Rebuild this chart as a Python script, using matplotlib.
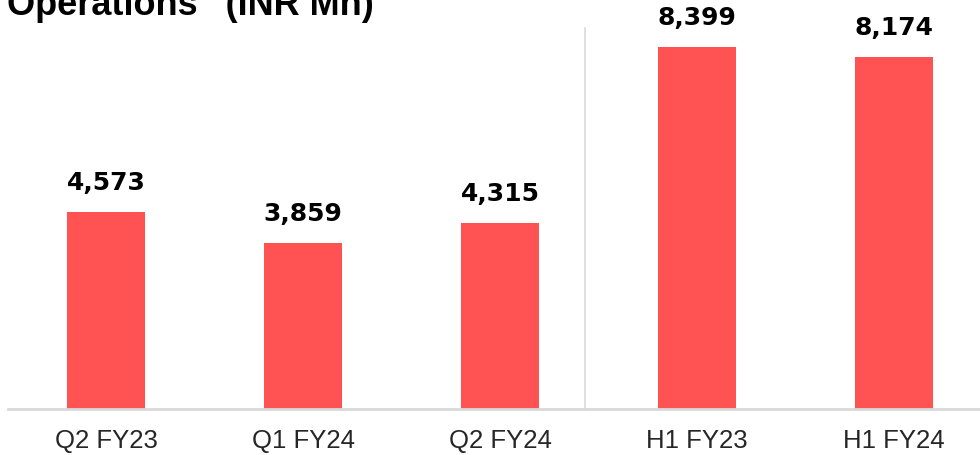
import matplotlib

matplotlib.use("Agg")
import matplotlib.pyplot as plt

CATEGORIES = ["Q2 FY23", "Q1 FY24", "Q2 FY24", "H1 FY23", "H1 FY24"]
VALUES = [4573, 3859, 4315, 8399, 8174]
TITLE = "Operations\u201d (INR Mn)"

BAR_COLOR = "#FF5353"
LINE_COLOR = "#D9D9D9"


def main() -> None:
    fig = plt.figure(figsize=(9.8, 4.56), dpi=100)
    # axes spans slightly past the right edge, like the cropped slide
    ax = fig.add_axes([0.0077, 0.101, 1.005, 0.84])

    x = list(range(len(CATEGORIES)))
    bars = ax.bar(x, VALUES, width=0.40, color=BAR_COLOR, edgecolor="none", zorder=2)

    ax.set_xlim(-0.5, len(CATEGORIES) - 0.5)
    ax.set_ylim(0, 8399 / 362 * 383)

    for bar, val in zip(bars, VALUES):
        ax.annotate(
            f"{val:,}",
            (bar.get_x() + bar.get_width() / 2, bar.get_height()),
            xytext=(0, 18),
            textcoords="offset pixels",
            ha="center",
            va="bottom",
            fontsize=18,
            fontweight="bold",
            family="DejaVu Sans",
            color="#000000",
        )

    # quarter vs half-year separator
    ax.axvline(2.43, ymin=0, ymax=(410 - 29) / 383, color=LINE_COLOR, lw=1.2, zorder=1)

    ax.set_xticks(x)
    ax.set_xticklabels(CATEGORIES, fontsize=18.5, family="Liberation Sans", color="#262626")
    ax.tick_params(axis="x", length=0, pad=14)
    ax.set_yticks([])

    for side in ["top", "right", "left"]:
        ax.spines[side].set_visible(False)
    ax.spines["bottom"].set_color(LINE_COLOR)
    ax.spines["bottom"].set_linewidth(2)

    fig.text(0.007, 1.0 - 15 / 456, TITLE, fontsize=26, fontweight="bold",
             family="Liberation Sans", ha="left", va="baseline")

    fig.savefig("out.png", dpi=100)
    plt.close(fig)


if __name__ == "__main__":
    main()
